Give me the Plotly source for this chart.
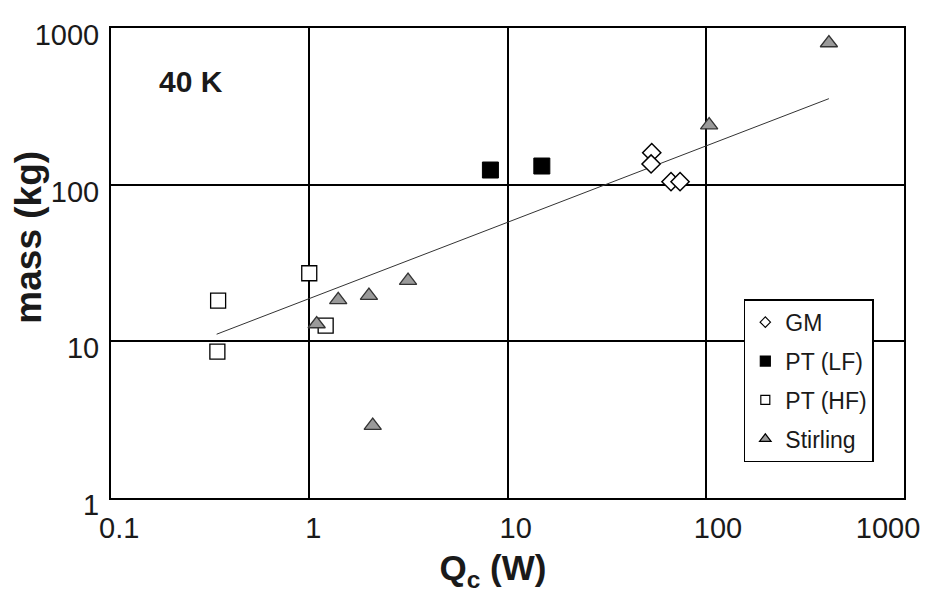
import plotly.graph_objects as go

# ---- data ----
gm_q = [53.4, 53.0, 66.8, 74.2]
gm_m = [160, 135.6, 104.5, 104.5]

ptlf_q = [8.2, 14.9]
ptlf_m = [124, 131.5]

pthf_q = [1.0, 0.347, 0.344, 1.21]
pthf_m = [27.2, 18.2, 8.6, 12.6]

stir_q = [1.40, 2.0, 3.15, 1.09, 2.09, 104, 418]
stir_m = [18.4, 19.6, 24.4, 12.9, 2.9, 240, 802]

trend_q = [0.341, 418]
trend_m = [11.1, 354]

tick_vals_x = [0.1, 1, 10, 100, 1000]
tick_text_x = ["0.1", "1", "10", "100", "1000"]
tick_vals_y = [1, 10, 100, 1000]
tick_text_y = ["1", "10", "100", "1000"]

NB = "&nbsp;"
# small per-label nudges (as in the reference) done with non-breaking spaces
x_pad_before = [6, 5, 6, 7, 0]
tick_text_x_disp = [NB * b + t for t, b in zip(tick_text_x, x_pad_before)]

FONT = "Liberation Sans, Arial, sans-serif"
TXT = "#1a1a1a"

fig = go.Figure()

# trend line
fig.add_trace(go.Scatter(x=trend_q, y=trend_m, mode="lines",
                         line=dict(color="#333333", width=1), showlegend=False,
                         hoverinfo="skip"))

# data traces (legend handled by small-marker proxies below)
fig.add_trace(go.Scatter(x=gm_q, y=gm_m, mode="markers", showlegend=False,
                         marker=dict(symbol="diamond", size=14, color="white",
                                     line=dict(color="black", width=1.5))))
fig.add_trace(go.Scatter(x=ptlf_q, y=ptlf_m, mode="markers", showlegend=False,
                         marker=dict(symbol="square", size=16, color="black",
                                     line=dict(color="black", width=1))))
fig.add_trace(go.Scatter(x=pthf_q, y=pthf_m, mode="markers", showlegend=False,
                         marker=dict(symbol="square", size=15, color="white",
                                     line=dict(color="black", width=1.3))))
fig.add_trace(go.Scatter(x=stir_q, y=stir_m, mode="markers", showlegend=False,
                         marker=dict(symbol="triangle-up", size=15, color="#9a9a9a",
                                     line=dict(color="#333333", width=1.3))))

# legend proxies
legend_specs = [
    ("GM", "diamond", "white", 8),
    ("PT (LF)", "square", "black", 10),
    ("PT (HF)", "square", "white", 9),
    ("Stirling", "triangle-up", "#9a9a9a", 10),
]
for i, (name, sym, col, sz) in enumerate(legend_specs):
    fig.add_trace(go.Scatter(x=[None], y=[None], mode="markers", name=name,
                             legendgroup=f"g{i}",
                             marker=dict(symbol=sym, size=sz, color=col,
                                         line=dict(color="black", width=1.2))))

fig.update_layout(
    width=920, height=591,
    margin=dict(l=103, r=24, t=20, b=101),
    paper_bgcolor="white", plot_bgcolor="white",
    font=dict(family=FONT, color=TXT),
    showlegend=True,
    legend=dict(x=0.798, y=0.423, xanchor="left", yanchor="top",
                bgcolor="white", bordercolor="black", borderwidth=1.5,
                font=dict(size=23, family=FONT, color=TXT),
                tracegroupgap=6, itemclick=False),
    annotations=[dict(text="<b>40 K</b>", x=0.058, y=0.887, xref="paper", yref="paper",
                      xanchor="left", yanchor="middle", showarrow=False,
                      font=dict(size=30, family=FONT, color=TXT))],
)

fig.update_xaxes(type="log", range=[-1, 3], tickvals=tick_vals_x, ticktext=tick_text_x_disp,
                 showgrid=True, gridcolor="black", gridwidth=1.5,
                 showline=True, linecolor="black", linewidth=2, mirror=True,
                 ticks="", ticklabelstandoff=3, ticklabelshift=-16, zeroline=False,
                 automargin=False, ticklabeloverflow="allow",
                 tickfont=dict(size=29, family=FONT, color=TXT),
                 title=dict(text="<b>Q<sub>c</sub> (W)" + NB * 3 + "</b>", standoff=13,
                            font=dict(size=35, family=FONT, color=TXT)))
fig.update_yaxes(type="log", range=[0, 3], tickvals=tick_vals_y, ticktext=tick_text_y,
                 showgrid=True, gridcolor="black", gridwidth=1.5,
                 showline=True, linecolor="black", linewidth=2, mirror=True,
                 ticks="", ticklabelstandoff=4, ticklabelshift=7, zeroline=False,
                 automargin=False,
                 tickfont=dict(size=29, family=FONT, color=TXT),
                 title=dict(text="<b>" + NB * 5 + "mass (kg)</b>", standoff=4,
                            font=dict(size=37, family=FONT, color=TXT)))

fig.write_html("out.html")
